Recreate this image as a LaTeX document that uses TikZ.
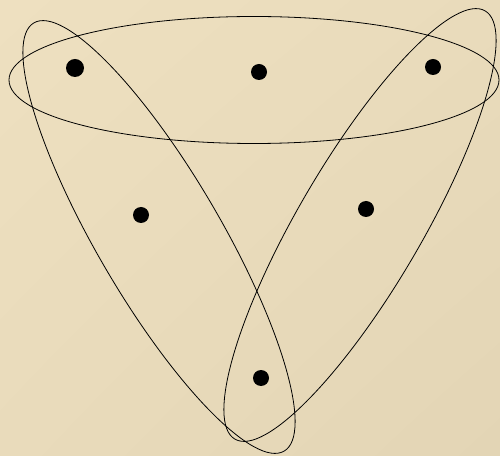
\documentclass[tikz,border=0pt]{standalone}
\usepackage{xcolor}
\usepackage{tikz}
\usetikzlibrary{shadings}

\definecolor{bgtop}{RGB}{238,224,192}
\definecolor{bgmid}{RGB}{233,219,187}
\definecolor{bgbot}{RGB}{227,213,181}

\begin{document}
\begin{tikzpicture}[
  x=1pt, y=1pt,
  dot/.style={circle, fill=black, inner sep=0pt, minimum size=16pt},
  edge/.style={line width=0.8pt, black}
]
% background
\shade[upper left=bgtop, upper right=bgmid, lower left=bgmid, lower right=bgbot]
  (0,0) rectangle (500,455);
\useasboundingbox (0,0) rectangle (500,455);

% vertices
\node[dot, minimum size=18pt] (v1) at (75,387) {};
\node[dot] (v2) at (259,383) {};
\node[dot] (v3) at (433,388) {};
\node[dot] (v4) at (141,240) {};
\node[dot] (v5) at (366,246) {};
\node[dot] (v6) at (261,77) {};

% hyperedges
\coordinate (ctop) at (254,375);
\coordinate (cleft) at (159,218);
\coordinate (cright) at (360,230);
\draw[edge] (ctop) ellipse [x radius=245pt, y radius=63.5pt];
\draw[edge, rotate around={-59.7:(cleft)}] (cleft) ellipse [x radius=248pt, y radius=62pt];
\draw[edge, rotate around={59.7:(cright)}] (cright) ellipse [x radius=248pt, y radius=62pt];
\end{tikzpicture}
\end{document}
